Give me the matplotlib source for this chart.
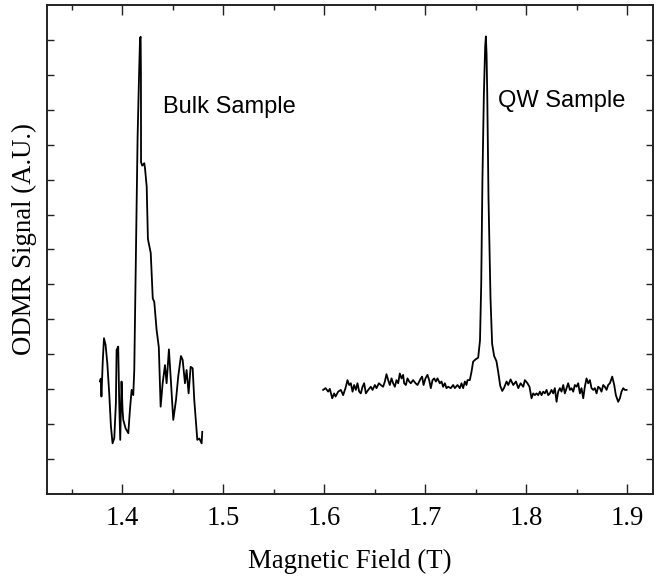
import numpy as np
import matplotlib
matplotlib.use("Agg")
import matplotlib.pyplot as plt

# =========================================================
# DATA
# =========================================================
bulk_field = [
    1.3777, 1.3785, 1.3792, 1.3805, 1.3817, 1.3833, 1.3850, 1.3869, 1.3886,
    1.3902, 1.3919, 1.3935, 1.3942, 1.3958, 1.3968, 1.3978, 1.3991, 1.4001,
    1.4008, 1.4031, 1.4058, 1.4074, 1.4091, 1.4107, 1.4117, 1.4124, 1.4141,
    1.4150, 1.4157, 1.4164, 1.4174, 1.4180, 1.4183, 1.4184, 1.4196, 1.4216,
    1.4223, 1.4240, 1.4252, 1.4280, 1.4300, 1.4315, 1.4338, 1.4360, 1.4378,
    1.4398, 1.4421, 1.4437, 1.4460, 1.4477, 1.4503, 1.4530, 1.4552, 1.4579,
    1.4596, 1.4619, 1.4635, 1.4655, 1.4675, 1.4695, 1.4711, 1.4741, 1.4761,
    1.4784, 1.4790,
]
bulk_signal = [
    3.22, 3.30, 2.79, 3.80, 4.46, 4.27, 3.74, 2.88, 1.93,
    1.45, 1.60, 2.60, 4.12, 4.22, 2.60, 1.55, 3.22, 2.41,
    2.12, 1.88, 1.74, 2.41, 2.98, 2.83, 3.55, 4.98, 8.42,
    10.23, 11.09, 11.95, 13.05, 13.09, 12.00, 9.50, 9.40, 9.47,
    9.33, 8.80, 7.30, 6.90, 5.60, 5.50, 4.70, 4.20, 2.50,
    3.17, 3.69, 3.17, 4.14, 3.36, 2.12, 2.69, 3.36, 3.95,
    3.84, 3.17, 3.55, 2.88, 3.64, 3.60, 2.69, 1.55, 1.59,
    1.45, 1.78,
]

qw_field = [
    1.5987, 1.6011, 1.6037, 1.6053, 1.6077, 1.6096, 1.6110, 1.6136, 1.6162,
    1.6185, 1.6209, 1.6228, 1.6245, 1.6261, 1.6278, 1.6294, 1.6311, 1.6327,
    1.6344, 1.6360, 1.6377, 1.6393, 1.6410, 1.6433, 1.6459, 1.6476, 1.6499,
    1.6515, 1.6539, 1.6558, 1.6581, 1.6598, 1.6614, 1.6631, 1.6647, 1.6664,
    1.6680, 1.6697, 1.6713, 1.6730, 1.6746, 1.6763, 1.6779, 1.6789, 1.6806,
    1.6822, 1.6839, 1.6855, 1.6878, 1.6902, 1.6921, 1.6938, 1.6954, 1.6967,
    1.6981, 1.7000, 1.7020, 1.7037, 1.7053, 1.7070, 1.7086, 1.7103, 1.7119,
    1.7142, 1.7159, 1.7175, 1.7192, 1.7208, 1.7225, 1.7251, 1.7274, 1.7291,
    1.7317, 1.7340, 1.7357, 1.7373, 1.7390, 1.7406, 1.7416, 1.7439, 1.7456,
    1.7472, 1.7499, 1.7522, 1.7540, 1.7552, 1.7564, 1.7578, 1.7591, 1.7598,
    1.7605, 1.7612, 1.7624, 1.7644, 1.7660, 1.7680, 1.7703, 1.7720, 1.7740,
    1.7760, 1.7777, 1.7803, 1.7820, 1.7843, 1.7869, 1.7896, 1.7919, 1.7942,
    1.7968, 1.7984, 1.8010, 1.8030, 1.8050, 1.8067, 1.8083, 1.8100, 1.8116,
    1.8133, 1.8149, 1.8166, 1.8182, 1.8199, 1.8215, 1.8232, 1.8248, 1.8265,
    1.8281, 1.8298, 1.8314, 1.8331, 1.8347, 1.8364, 1.8380, 1.8397, 1.8413,
    1.8430, 1.8446, 1.8463, 1.8479, 1.8496, 1.8512, 1.8529, 1.8545, 1.8562,
    1.8578, 1.8595, 1.8611, 1.8628, 1.8644, 1.8661, 1.8677, 1.8694, 1.8710,
    1.8727, 1.8743, 1.8760, 1.8776, 1.8793, 1.8809, 1.8826, 1.8849, 1.8869,
    1.8885, 1.8908, 1.8925, 1.8941, 1.8958, 1.8974, 1.8991,
]
qw_signal = [
    2.98, 3.03, 2.93, 3.01, 2.74, 2.88, 2.79, 2.93, 2.98,
    2.83, 3.04, 3.26, 3.12, 3.17, 2.93, 3.12, 2.98, 3.17,
    2.93, 2.88, 3.07, 3.17, 2.88, 2.98, 3.07, 2.98, 3.12,
    3.03, 3.17, 3.12, 3.07, 3.22, 3.43, 3.26, 3.12, 3.31,
    3.17, 3.07, 3.26, 3.17, 3.45, 3.31, 3.41, 3.17, 3.12,
    3.31, 3.22, 3.17, 3.26, 3.17, 3.12, 3.22, 3.31, 3.36,
    3.12, 3.31, 3.41, 3.26, 3.03, 3.26, 3.31, 3.22, 3.31,
    3.17, 3.22, 3.07, 3.17, 3.03, 3.07, 3.03, 3.12, 3.03,
    3.12, 3.03, 3.17, 3.03, 3.22, 3.12, 3.26, 3.26, 3.50,
    3.79, 3.86, 3.90, 4.40, 6.00, 9.00, 11.40, 12.80, 13.10,
    12.60, 11.40, 8.50, 5.60, 4.30, 3.95, 3.80, 3.50, 3.10,
    2.95, 3.03, 3.22, 3.12, 3.28, 3.12, 3.22, 3.03, 3.17,
    3.07, 3.26, 3.17, 3.07, 2.74, 2.88, 2.83, 2.88, 2.83,
    2.93, 2.83, 2.93, 2.88, 2.98, 2.83, 2.88, 2.98, 2.88,
    3.03, 2.64, 2.93, 3.03, 2.93, 3.12, 2.88, 3.03, 3.17,
    2.98, 3.03, 2.93, 3.12, 3.07, 3.17, 2.88, 3.03, 2.74,
    3.07, 3.31, 3.17, 3.26, 3.03, 2.98, 3.03, 2.88, 3.07,
    3.03, 2.93, 3.12, 3.07, 2.98, 3.12, 3.17, 3.36, 3.12,
    2.83, 2.64, 2.74, 2.93, 3.03, 2.98, 2.98,
]

x_ticks = [1.4, 1.5, 1.6, 1.7, 1.8, 1.9]
x_tick_labels = ["1.4", "1.5", "1.6", "1.7", "1.8", "1.9"]
x_minor = [1.35, 1.45, 1.55, 1.65, 1.75, 1.85]
y_ticks = list(range(1, 14))

# =========================================================
# FIGURE
# =========================================================
SERIF = "Liberation Serif"
SANS = "Liberation Sans"
SERIF_SIZE = 19.3

fig = plt.figure(figsize=(6.72, 5.8), dpi=100)
ax = fig.add_axes([0.0695, 0.1483, 0.9018, 0.8431])

ax.plot(bulk_field, bulk_signal, color="black", linewidth=1.3)
ax.plot(qw_field, qw_signal, color="black", linewidth=1.3)

ax.set_xlim(1.325, 1.925)
ax.set_ylim(0, 14)

ax.set_xticks(x_ticks)
ax.set_xticklabels(x_tick_labels, fontfamily=SERIF, fontsize=SERIF_SIZE)
ax.set_xticks(x_minor, minor=True)
ax.set_yticks(y_ticks)
ax.set_yticklabels([])

ax.tick_params(axis="x", which="major", direction="in", length=7.5, width=1.0,
               top=True, bottom=True, pad=8.5, color="#222222")
ax.tick_params(axis="x", which="minor", direction="in", length=3.8, width=1.0,
               top=True, bottom=True, color="#222222")
ax.tick_params(axis="y", which="major", direction="in", length=5, width=1.0,
               left=True, right=True, color="#222222")

for sp in ax.spines.values():
    sp.set_linewidth(1.4)
    sp.set_color("#222222")

ax.text(1.4401, 10.91, "Bulk Sample", fontfamily=SANS, fontsize=17, va="baseline")
ax.text(1.7716, 11.09, "QW Sample", fontfamily=SANS, fontsize=17, va="baseline")

fig.text(349.7 / 672, 1 - 561 / 580, "Magnetic Field (T)", fontfamily=SERIF,
         fontsize=SERIF_SIZE, ha="center", va="center")
fig.text(24 / 672, 1 - 238.6 / 580, "ODMR Signal (A.U.)", fontfamily=SERIF,
         fontsize=SERIF_SIZE, ha="center", va="center", rotation=90)

fig.savefig("out.png", dpi=100)
